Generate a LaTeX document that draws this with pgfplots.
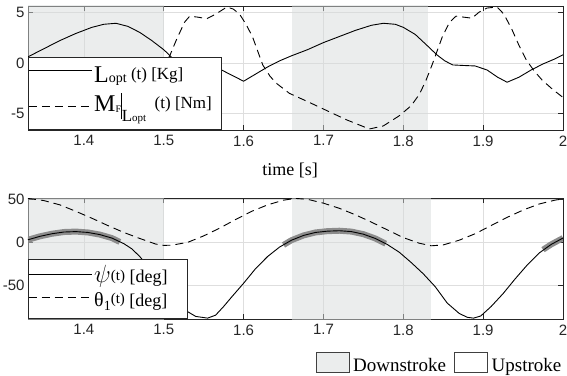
\documentclass[border=0pt]{standalone}
\usepackage{fontspec}
\setmainfont{Liberation Serif}
\newfontfamily\ticksans{Liberation Sans}
\usepackage{pgfplots}
\pgfplotsset{compat=1.18}
\definecolor{shade}{RGB}{216,220,220}
\definecolor{shadeL}{RGB}{235,237,237}
\definecolor{axgray}{RGB}{38,38,38}
\definecolor{hl}{RGB}{140,140,140}
\newcommand{\fs}[1]{\fontsize{#1}{#1}\selectfont}
\pgfplotsset{
  mystyle/.style={
    scale only axis, width=535pt,
    xmin=1.33, xmax=2,
    xtick={1.4,1.5,1.6,1.7,1.8,1.9,2},
    xticklabels={1.4,1.5,1.6,1.7,1.8,1.9,2},
    grid=major, grid style={color=black!13, line width=0.6pt},
    axis line style={color=axgray, line width=0.6pt},
    tick style={color=axgray, line width=0.6pt},
    major tick length=5pt,
    tick align=inside,
    ticklabel style={font=\ticksans\fs{15}, text=axgray},
    xticklabel style={yshift=-2pt},
    legend cell align=left,
  },
  solidline/.style={black, line width=0.9pt,
    legend image code/.code={\draw[##1] (0pt,#1) -- (63pt,#1);}},
  dashline/.style={black, line width=0.9pt, dash pattern=on 8pt off 5pt,
    legend image code/.code={\draw[##1] (0pt,#1) -- (63pt,#1);}},
}
\begin{document}
\begin{tikzpicture}
\path[use as bounding box] (0pt,0pt) rectangle (567pt,375pt);

% ---------------- top axis ----------------
\begin{axis}[mystyle, at={(28pt,245pt)}, anchor=south west, height=124pt,
  ymin=-6.6, ymax=5.6, ytick={-5,0,5}, yticklabels={-5,0,5},
  xlabel={time [s]},
  xlabel style={font=\fs{18}, at={(axis description cs:0.49,0)}, anchor=base, yshift=-45.7pt},
  legend style={at={(0,0)}, anchor=south west, draw=axgray, fill=white,
      line width=0.6pt, inner xsep=0pt, inner ysep=0pt, row sep=-15.9pt,
      nodes={inner xsep=2pt, inner ysep=0pt, text height=26pt, text depth=18.3pt}},
]
\addplot[draw=none, fill=shade, fill opacity=0.5, forget plot] coordinates {(1.33,-10) (1.5,-10) (1.5,10) (1.33,10)} -- cycle;
\addplot[draw=none, fill=shade, fill opacity=0.5, forget plot] coordinates {(1.661,-10) (1.831,-10) (1.831,10) (1.661,10)} -- cycle;
\addplot[solidline=8.3pt] coordinates {
(1.33,0.6) (1.35,1.4) (1.37,2.2) (1.39,2.9) (1.41,3.5) (1.425,3.8) (1.44,3.9)
(1.455,3.6) (1.47,3.0) (1.485,2.2) (1.5,1.3) (1.508,0.7) (1.515,0.1) (1.525,-0.2)
(1.54,-0.25) (1.555,-0.3) (1.57,-0.6) (1.585,-1.2) (1.6,-1.8) (1.615,-1.1)
(1.63,-0.4) (1.645,0.2) (1.66,0.7) (1.68,1.3) (1.70,2.0) (1.72,2.6) (1.74,3.2)
(1.76,3.7) (1.775,3.9) (1.79,3.8) (1.80,3.5) (1.815,2.8) (1.83,1.7) (1.842,0.8)
(1.852,0.2) (1.862,-0.2) (1.875,-0.25) (1.89,-0.3) (1.905,-0.7) (1.918,-1.4)
(1.93,-1.9) (1.945,-1.4) (1.96,-0.7) (1.975,-0.1) (1.99,0.4) (2.0,0.8)};
\addlegendentry{\fs{24}L\fs{14}opt\fs{17}\ \raisebox{3pt}{(t) [Kg]}}
\addplot[dashline=0.7pt] coordinates {
(1.33,-3.3) (1.35,-4.2) (1.37,-5.0) (1.39,-5.7) (1.42,-6.5) (1.44,-6.1) (1.46,-5.0)
(1.475,-3.8) (1.485,-2.6) (1.495,-0.9) (1.5075,0.7) (1.516,2.3) (1.526,4.0)
(1.5325,4.6) (1.543,4.5) (1.554,4.35) (1.565,4.8) (1.579,5.5) (1.587,5.3)
(1.595,4.8) (1.603,3.8) (1.611,2.6) (1.624,-0.2) (1.633,-1.3) (1.641,-2.0)
(1.6575,-3.0) (1.68,-3.8) (1.699,-4.5) (1.729,-5.6) (1.7575,-6.5) (1.775,-6.2)
(1.795,-5.2) (1.81,-4.2) (1.82,-3.1) (1.828,-1.8) (1.836,-0.2) (1.849,2.6)
(1.858,4.0) (1.866,4.6) (1.876,4.5) (1.886,4.4) (1.895,5.0) (1.905,5.4)
(1.9175,5.5) (1.926,4.8) (1.936,3.3) (1.945,1.7) (1.954,0.3) (1.964,-0.8)
(1.974,-1.7) (1.987,-2.6) (2.0,-3.4)};
\addlegendentry{\fs{24}M\raisebox{-1pt}{\fs{10}F}\rule[-8pt]{0.7pt}{26pt}\raisebox{-10pt}{\fs{17}L\fs{11}opt}\fs{17}\ \ \raisebox{2.5pt}{(t) [Nm]}\hspace*{7pt}}
\end{axis}

% ---------------- bottom axis ----------------
\begin{axis}[mystyle, at={(28pt,56pt)}, anchor=south west, height=121pt,
  ymin=-89.5, ymax=51, ytick={-50,0,50}, yticklabels={-50,0,50},
  legend style={at={(0,0)}, anchor=south west, draw=axgray, fill=white,
      line width=0.6pt, inner xsep=0pt, inner ysep=0pt, row sep=-11pt,
      nodes={inner xsep=2pt, inner ysep=0pt, text height=23pt, text depth=12pt}},
]
\addplot[draw=none, fill=shade, fill opacity=0.5, forget plot] coordinates {(1.33,-100) (1.5,-100) (1.5,100) (1.33,100)} -- cycle;
\addplot[draw=none, fill=shade, fill opacity=0.5, forget plot] coordinates {(1.661,-100) (1.835,-100) (1.835,100) (1.661,100)} -- cycle;
\addplot[hl, line width=6pt, forget plot] coordinates {
(1.33,2.5) (1.345,6.5) (1.36,9.5) (1.375,11.5) (1.39,12) (1.405,11) (1.42,8.5) (1.435,4.5) (1.445,0)};
\addplot[hl, line width=6pt, forget plot] coordinates {
(1.65,-3.5) (1.66,2) (1.675,7.5) (1.69,11) (1.705,12.5) (1.72,13) (1.735,12) (1.75,9) (1.765,4) (1.778,-2)};
\addplot[hl, line width=6pt, forget plot] coordinates {
(1.975,-9) (1.985,-3) (2.0,4.5)};
\addplot[solidline=3pt] coordinates {
(1.33,2.5) (1.345,6.5) (1.36,9.5) (1.375,11.5) (1.39,12) (1.405,11) (1.42,8.5)
(1.435,4.5) (1.45,-2) (1.46,-8) (1.47,-17) (1.48,-28) (1.49,-40) (1.50,-51)
(1.51,-63) (1.52,-73) (1.53,-81) (1.54,-86.5) (1.555,-88.5) (1.565,-85) (1.575,-75)
(1.585,-64) (1.60,-48) (1.615,-31) (1.63,-17) (1.645,-6) (1.66,2) (1.675,7.5)
(1.69,11) (1.705,12.5) (1.72,13) (1.735,12) (1.75,9) (1.765,4) (1.78,-3)
(1.795,-12) (1.81,-24) (1.825,-37) (1.84,-52) (1.855,-71) (1.87,-83) (1.88,-87.5)
(1.888,-88.5) (1.897,-86) (1.91,-75) (1.925,-60) (1.94,-43) (1.955,-27)
(1.97,-13) (1.985,-3) (2.0,4.5)};
\addlegendentry{{\fs{25}$\psi$}\raisebox{2pt}{\fs{15}(t)}\fs{18}\ [deg]\hspace*{18pt}}
\addplot[dashline=4pt] coordinates {
(1.33,50.5) (1.35,48) (1.37,43) (1.39,35.5) (1.41,27.5) (1.43,19) (1.45,11)
(1.47,4) (1.49,-2.5) (1.5,-4) (1.51,-3.8) (1.53,-0.5) (1.55,7) (1.57,16) (1.59,26)
(1.61,35.5) (1.63,43) (1.65,48.5) (1.665,50.5) (1.68,49.5) (1.70,45) (1.72,39)
(1.74,31.5) (1.76,23) (1.78,14) (1.80,5) (1.82,-1.5) (1.835,-4.5) (1.85,-3.5)
(1.87,2) (1.89,9.5) (1.91,19) (1.93,28.5) (1.95,37) (1.97,44) (1.99,48.5) (2.0,50)};
\addlegendentry{{\fs{20}θ}\raisebox{-4pt}{\fs{14}1}\raisebox{3pt}{\fs{15}(t)}\fs{18}\ [deg]}
\end{axis}

% ---------------- stroke legend ----------------
\begin{axis}[at={(0pt,0pt)}, anchor=south west, scale only axis,
  width=567pt, height=375pt, hide axis, xmin=0, xmax=1, ymin=0, ymax=1,
  legend columns=2,
  legend style={at={(0.993,0.0)}, anchor=south east, draw=none, fill=none,
    font=\fs{19}, inner sep=0pt, column sep=2pt, nodes={inner xsep=1.5pt}},
  legend image code/.code={\draw[#1] (0pt,-7pt) rectangle (33pt,13pt);},
]
\addlegendimage{fill=shadeL, draw=black!75, line width=0.7pt}
\addlegendentry{Downstroke\hspace*{5pt}}
\addlegendimage{fill=white, draw=black!75, line width=0.7pt}
\addlegendentry{Upstroke}
\end{axis}
\end{tikzpicture}
\end{document}
